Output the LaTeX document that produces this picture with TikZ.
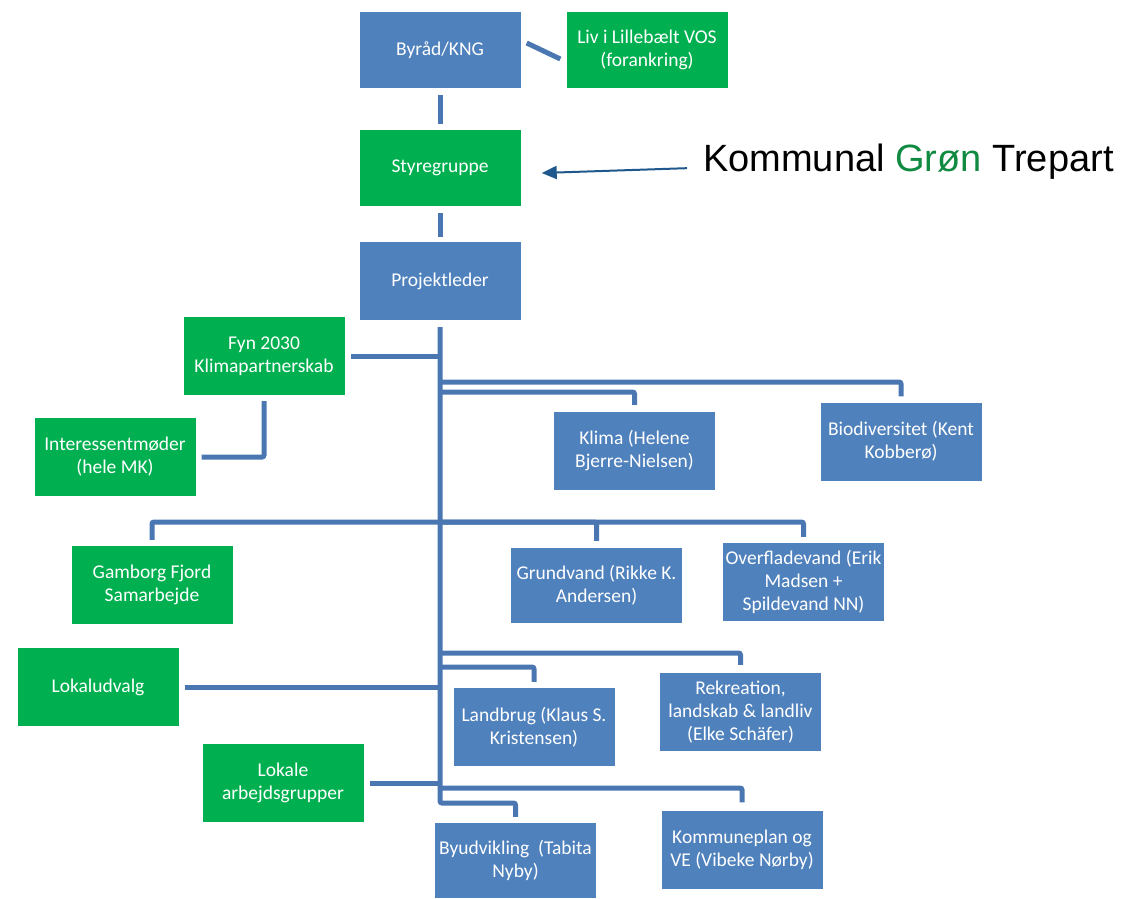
\documentclass[tikz,border=0pt]{standalone}
\usepackage{fontspec}
\usetikzlibrary{arrows.meta}
\newfontfamily\boxfont{Carlito}
\newfontfamily\notefont{Liberation Sans}
\definecolor{boxblue}{RGB}{79,129,189}
\definecolor{boxgreen}{RGB}{0,176,80}
\definecolor{linkblue}{RGB}{74,118,178}
\definecolor{arrowblue}{RGB}{30,88,140}
\definecolor{notegreen}{RGB}{16,138,64}

\begin{document}
\begin{tikzpicture}[x=1pt,y=-1pt,
  unit/.style={fill=boxblue,text=white,font=\boxfont\fontsize{19.5}{23}\selectfont,align=center,inner sep=0pt,minimum width=161pt,minimum height=78pt},
  partner/.style={unit,fill=boxgreen},
  link/.style={draw=linkblue,line width=5pt,rounded corners=2pt},
  pointer/.style={draw=arrowblue,line width=2pt,-{Triangle[length=15pt,width=13pt]}}]
\useasboundingbox (0,0) rectangle (1125,898);
\node[unit,minimum height=76pt] (byraad) at (440,50) {Byråd/KNG};
\node[partner,minimum height=76pt] (liv) at (647,50) {Liv i Lillebælt VOS\\(forankring)};
\node[partner,minimum height=76pt] (styre) at (440,168) {Styregruppe};
\node[unit] (projekt) at (440,281) {Projektleder};
\node[partner] (fyn) at (264,356) {Fyn 2030\\Klimapartnerskab};
\node[partner] (interesse) at (115,457) {Interessentmøder\\(hele MK)};
\node[unit] (klima) at (634.5,451) {Klima (Helene\\Bjerre-Nielsen)};
\node[unit] (biodiv) at (901,441.5) {Biodiversitet (Kent\\Kobberø)};
\node[partner] (gamborg) at (152,585) {Gamborg Fjord\\Samarbejde};
\node[unit,minimum width=171pt,minimum height=75pt] (grundvand) at (596.5,585.5) {Grundvand (Rikke K.\\Andersen)};
\node[unit] (overflade) at (803.5,582) {Overfladevand (Erik\\Madsen +\\Spildevand NN)};
\node[partner] (lokaludvalg) at (98,687) {Lokaludvalg};
\node[unit] (landbrug) at (534,727) {Landbrug (Klaus S.\\Kristensen)};
\node[unit] (rekreation) at (740.5,712) {Rekreation,\\landskab \& landliv\\(Elke Schäfer)};
\node[partner] (lokale) at (283,783) {Lokale\\arbejdsgrupper};
\node[unit,minimum height=75pt] (byudvikling) at (515.5,860.5) {Byudvikling~~(Tabita\\Nyby)};
\node[unit] (kommuneplan) at (742,849.5) {Kommuneplan og\\VE (Vibeke Nørby)};
\node[anchor=base west,inner sep=0pt,font=\notefont\fontsize{38}{44}\selectfont] (trepart) at (703,171) {Kommunal \textcolor{notegreen}{Grøn} Trepart};

\coordinate (trunkend) at (440,803);
\coordinate (bio) at (440,382);
\coordinate (kli) at (440,392);
\coordinate (vand) at (440,522);
\coordinate (rek) at (440,653);
\coordinate (land) at (440,667);
\coordinate (plan) at (440,788);

\draw[link] ([xshift=6pt,yshift=7pt]byraad.east) -- ([xshift=-6pt,yshift=-9pt]liv.west);
\draw[link] ([yshift=-7pt]byraad.south) -- ([yshift=6pt]styre.north);
\draw[link] ([yshift=-7pt]styre.south) -- ([yshift=5pt]projekt.north);
\draw[link] ([yshift=-7pt]projekt.south) -- (trunkend) -| ([yshift=6pt]byudvikling.north);
\draw[link] ([xshift=6pt]fyn.east) -- (fyn.east -| trunkend);
\draw[link] ([yshift=-6pt]fyn.south) |- ([xshift=6pt]interesse.east);
\draw[link] (bio) -| ([yshift=6pt]biodiv.north);
\draw[link] (kli) -| ([yshift=7pt]klima.north);
\draw[link] (vand) -| ([yshift=6pt]gamborg.north);
\draw[link] (vand) -| ([yshift=7pt]grundvand.north);
\draw[link] (vand) -| ([yshift=6pt]overflade.north);
\draw[link] (rek) -| ([yshift=8pt]rekreation.north);
\draw[link] (land) -| ([yshift=6pt]landbrug.north);
\draw[link] ([xshift=6pt]lokaludvalg.east) -- (lokaludvalg.east -| trunkend);
\draw[link] ([xshift=6pt]lokale.east) -- (lokale.east -| trunkend);
\draw[link] (plan) -| ([yshift=8pt]kommuneplan.north);
\draw[pointer] ([xshift=-16pt,yshift=-7pt]trepart.west) -- ([xshift=21pt,yshift=-5pt]styre.east);
\end{tikzpicture}
\end{document}
